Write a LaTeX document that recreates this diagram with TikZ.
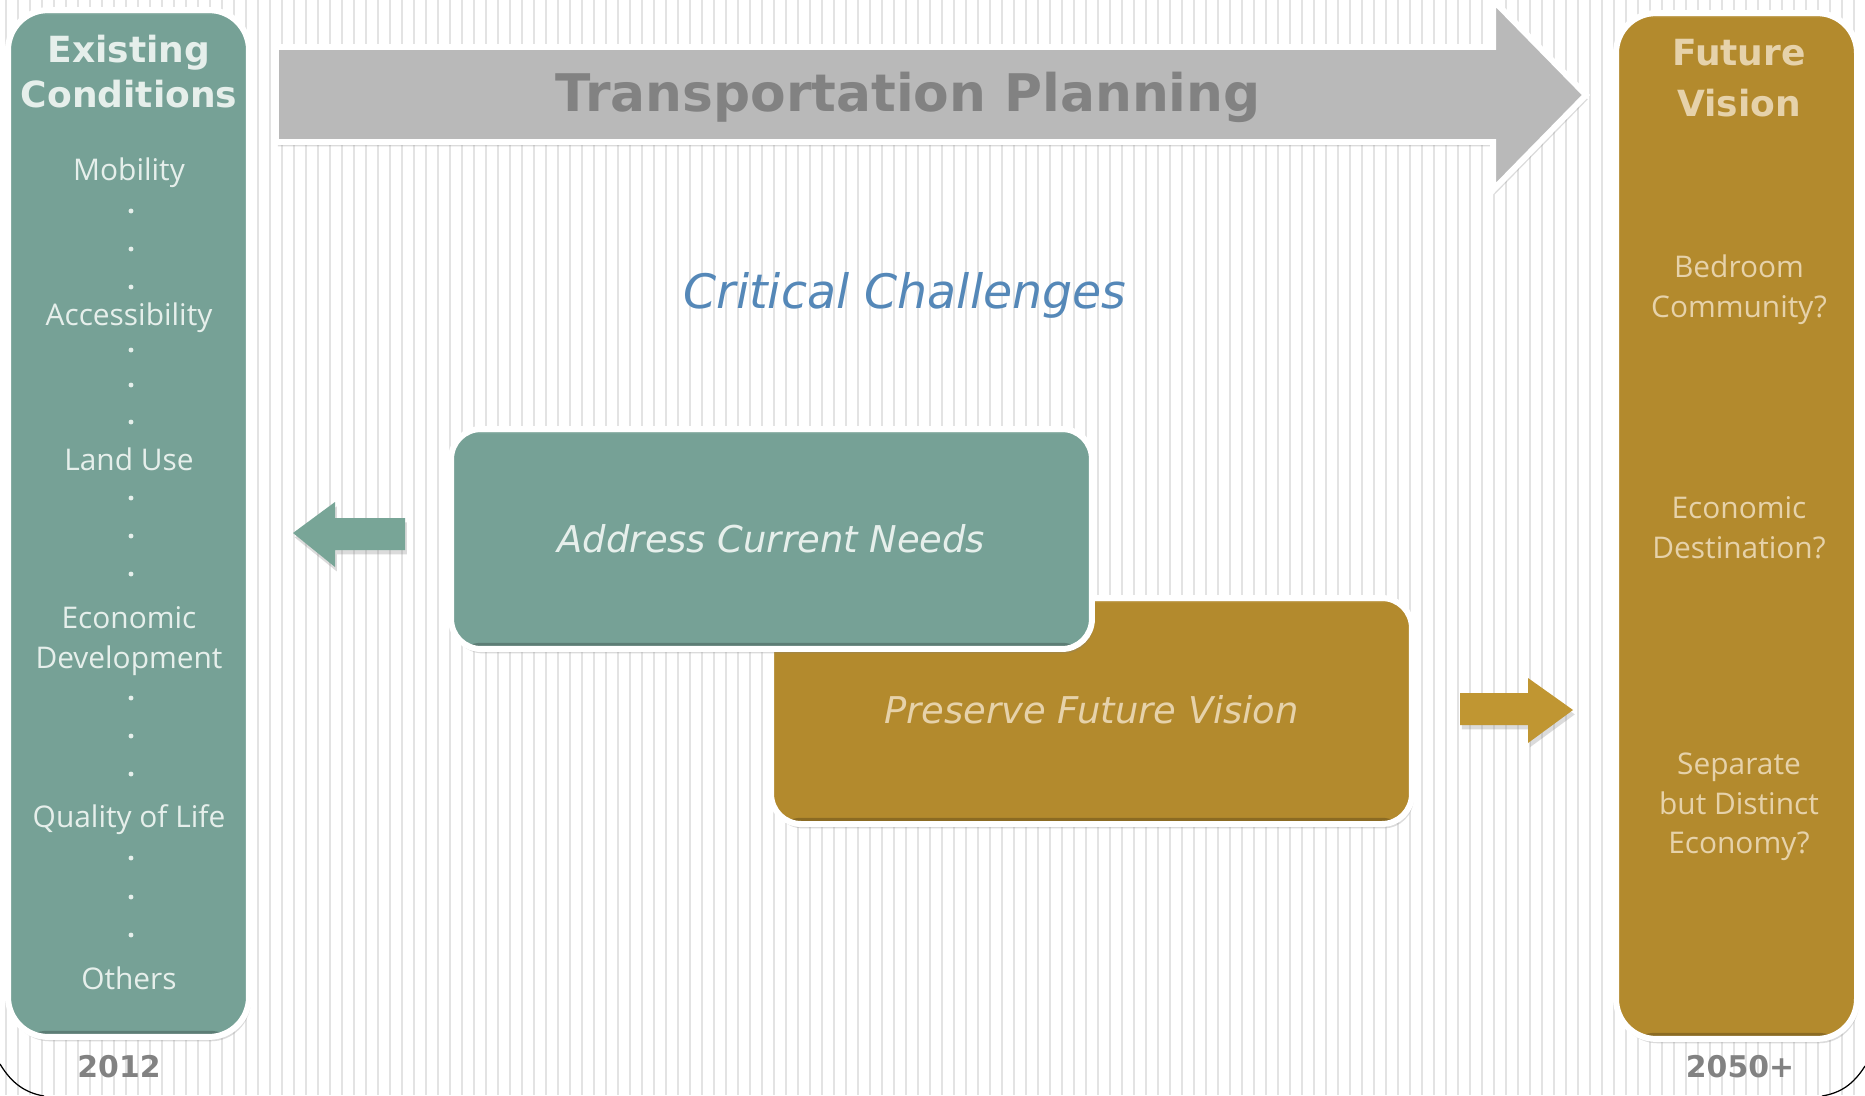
\documentclass[tikz,border=0pt]{standalone}
\usepackage{fontspec}
\setmainfont{Open Sans}
\newfontfamily\headfont{DejaVu Sans}
\usepackage{tikz}
\usetikzlibrary{shadows}

\definecolor{sage}{HTML}{76A196}
\definecolor{sagetext}{HTML}{E6EFEB}
\definecolor{sagearrow}{HTML}{78A597}
\definecolor{ochre}{HTML}{B38A2D}
\definecolor{ochretext}{HTML}{E6D2AA}
\definecolor{ochrearrow}{HTML}{C09632}
\definecolor{arrowgray}{HTML}{B9B9B9}
\definecolor{labelgray}{HTML}{828282}
\definecolor{challenge}{HTML}{5588B8}
\definecolor{stripe}{HTML}{E3E3E3}

\tikzstyle{softshadow} = [drop shadow={opacity=0.28, shadow xshift=1pt, shadow yshift=-2.5pt}]
\tikzstyle{bevel} = [path picture={
    \fill[black, opacity=0.22] (path picture bounding box.south west)
      rectangle ([yshift=3.5pt]path picture bounding box.south east);
    \fill[white, opacity=0.12] (path picture bounding box.north west)
      rectangle ([yshift=-2.5pt]path picture bounding box.north east);}]
\tikzstyle{pillar} = [draw=white, line width=3.4pt, rounded corners=0.8cm,
                      minimum width=4.82cm, minimum height=20.54cm, softshadow, bevel]
\tikzstyle{card} = [draw=white, line width=3.4pt, rounded corners=0.6cm,
                    minimum width=12.82cm, minimum height=4.4cm, softshadow, bevel,
                    font=\headfont\itshape\fontsize{21}{25}\selectfont]
\tikzstyle{head} = [align=center, font=\headfont\bfseries\fontsize{20.5}{25.6}\selectfont]
\tikzstyle{item} = [align=center, font=\fontsize{17}{22.5}\selectfont]
\tikzstyle{year} = [text=labelgray, font=\headfont\bfseries\fontsize{17}{20}\selectfont]
\tikzstyle{bigarrow} = [draw=white, line width=3.4pt, fill=arrowgray, softshadow]

\begin{document}
\begin{tikzpicture}[x=0.02cm, y=-0.02cm]
    \useasboundingbox (0,0) rectangle (1865,1095);
    \fill[white] (0,0) rectangle (1865,1095);

    % striped background and page corners
    \foreach \x in {6,18,...,1865}
      \draw[stripe, line width=1.1pt] (\x,0) -- (\x,1095);
    \draw[line width=0.7pt] (0,1064) .. controls (12,1084) and (26,1093) .. (44,1096);
    \draw[line width=0.7pt] (1865,1066) .. controls (1853,1085) and (1840,1093) .. (1822,1096);

    % the planning arrow across the top
    \draw[bigarrow] (276,47) -- (1493,47) -- (1493,0) -- (1586,95) -- (1493,190)
                    -- (1493,142) -- (276,142) -- cycle;
    \node[text=labelgray, font=\headfont\bfseries\fontsize{29.5}{34}\selectfont]
      (planning) at (908,97) {Transportation Planning};

    % the two time columns
    \node[pillar, fill=sage] (existing) at (128.5,523.5) {};
    \node[pillar, fill=ochre, minimum height=20.52cm] (future) at (1736.5,526) {};

    \node[head, text=sagetext] (existhead) at (129,72) {Existing\\Conditions};
    \node[head, text=ochretext, font=\headfont\bfseries\fontsize{20.5}{29}\selectfont]
      (futurehead) at (1739,78) {Future\\Vision};

    \foreach \txt/\y [count=\i] in {Mobility/173, Accessibility/318, Land Use/459,
        {Economic\\Development}/641, Quality of Life/820, Others/978}
      \node[item, text=sagetext] (cond\i) at (129,\y) {\txt};
    \foreach \y in {211,249,287,350,385,422,498,536,574,698,736,774,858,897,935}
      \fill[sagetext] (131,\y) circle (1.4pt);

    \foreach \txt/\y [count=\i] in {{Bedroom\\Community?}/290,
        {Economic\\Destination?}/528, {Separate\\but Distinct\\Economy?}/807}
      \node[item, text=ochretext] (vis\i) at (1739,\y) {\txt};

    % challenges in the middle
    \node[text=challenge, font=\headfont\itshape\fontsize{27}{32}\selectfont]
      (challenges) at (905,295) {Critical Challenges};
    \node[card, fill=ochre, text=ochretext, minimum height=4.52cm,
          text height=19.5pt, text depth=5pt]
      (preserve) at (1091.5,711) {Preserve Future Vision};
    \node[card, fill=sage, text=sagetext] (address) at (771.5,539) {Address Current Needs};

    % small pointers
    \fill[sagearrow, softshadow] (293,533) -- (335,502) -- (335,518) -- (405,518)
      -- (405,550) -- (335,550) -- (335,567) -- cycle;
    \fill[ochrearrow, softshadow] (1460,693) -- (1528,693) -- (1528,678) -- (1573,710)
      -- (1528,743) -- (1528,725) -- (1460,725) -- cycle;

    \node[year] (start) at (119,1067) {2012};
    \node[year] (horizon) at (1740,1067) {2050+};
\end{tikzpicture}
\end{document}
